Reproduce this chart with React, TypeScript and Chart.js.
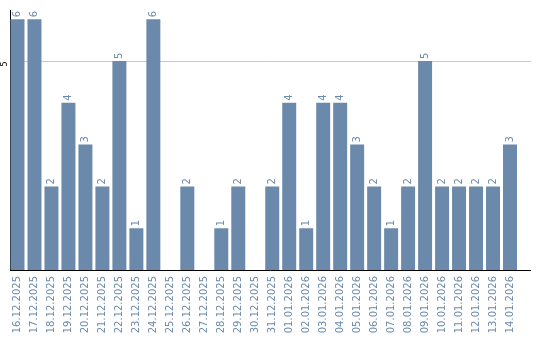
import React, { useEffect, useRef } from "react";
import { Chart, registerables } from "chart.js";

Chart.register(...registerables);

const categories = [
  "16.12.2025", "17.12.2025", "18.12.2025", "19.12.2025", "20.12.2025",
  "21.12.2025", "22.12.2025", "23.12.2025", "24.12.2025", "25.12.2025",
  "26.12.2025", "27.12.2025", "28.12.2025", "29.12.2025", "30.12.2025",
  "31.12.2025", "01.01.2026", "02.01.2026", "03.01.2026", "04.01.2026",
  "05.01.2026", "06.01.2026", "07.01.2026", "08.01.2026", "09.01.2026",
  "10.01.2026", "11.01.2026", "12.01.2026", "13.01.2026", "14.01.2026",
];
const values = [6, 6, 2, 4, 3, 2, 5, 1, 6, 0, 2, 0, 1, 2, 0, 2, 4, 1, 4, 4, 3, 2, 1, 2, 5, 2, 2, 2, 2, 3];
const yTicks = [5];

const BAR = "#6b8aab";
const FONT = "'DejaVu Sans', sans-serif";

const decor = {
  id: "decor",
  beforeDatasetsDraw(chart: any) {
    const { ctx, chartArea, scales } = chart;
    const y = scales.y;
    const left = 10;
    const right = 531;
    ctx.save();
    ctx.strokeStyle = "#c8c8c8";
    ctx.lineWidth = 1;
    yTicks.forEach((t) => {
      const py = Math.round(y.getPixelForValue(t)) + 0.5;
      ctx.beginPath();
      ctx.moveTo(left, py);
      ctx.lineTo(right, py);
      ctx.stroke();
      ctx.save();
      ctx.translate(5, py + 2.5);
      ctx.rotate(-Math.PI / 2);
      ctx.fillStyle = "#000";
      ctx.font = "8px " + FONT;
      ctx.textAlign = "center";
      ctx.textBaseline = "middle";
      ctx.fillText(String(t), 0, 0);
      ctx.restore();
    });
    ctx.strokeStyle = "#000";
    ctx.beginPath();
    ctx.moveTo(left + 0.5, chartArea.top);
    ctx.lineTo(left + 0.5, chartArea.bottom);
    ctx.stroke();
    ctx.beginPath();
    ctx.moveTo(left, Math.round(chartArea.bottom) + 0.5);
    ctx.lineTo(right, Math.round(chartArea.bottom) + 0.5);
    ctx.stroke();
    ctx.restore();
  },
  afterDatasetsDraw(chart: any) {
    const { ctx } = chart;
    const meta = chart.getDatasetMeta(0);
    ctx.save();
    ctx.fillStyle = BAR;
    ctx.font = "10px " + FONT;
    ctx.textAlign = "left";
    ctx.textBaseline = "middle";
    meta.data.forEach((el: any, i: number) => {
      const v = values[i];
      if (!v) return;
      ctx.save();
      ctx.translate(el.x, el.y - 2);
      ctx.rotate(-Math.PI / 2);
      ctx.fillText(String(v), 0, 0);
      ctx.restore();
    });
    ctx.restore();
  },
};

export default function App() {
  const ref = useRef<HTMLCanvasElement | null>(null);
  useEffect(() => {
    document.body.style.margin = "0";
    const chart = new Chart(ref.current!, {
      type: "bar",
      data: {
        labels: categories,
        datasets: [
          {
            data: values,
            backgroundColor: BAR,
            barPercentage: 14 / 17,
            categoryPercentage: 1,
          },
        ],
      },
      options: {
        animation: false,
        responsive: false,
        maintainAspectRatio: false,
        layout: { padding: { left: 9, right: 21.5, top: 10, bottom: 0 } },
        plugins: { legend: { display: false }, tooltip: { enabled: false } },
        scales: {
          x: {
            grid: { display: false, drawTicks: false },
            border: { display: false },
            ticks: {
              autoSkip: false,
              minRotation: 90,
              maxRotation: 90,
              padding: 6,
              color: BAR,
              font: { family: FONT, size: 10 },
            },
            afterFit: (s: any) => {
              s.height = 70;
            },
          },
          y: {
            display: false,
            min: 0,
            max: 6.22,
          },
        },
      },
      plugins: [decor],
    });
    return () => chart.destroy();
  }, []);
  return (
    <div style={{ position: "absolute", left: 0, top: 0, width: 540, height: 340, background: "#fff" }}>
      <canvas ref={ref} width={540} height={340} style={{ width: 540, height: 340 }} />
    </div>
  );
}
